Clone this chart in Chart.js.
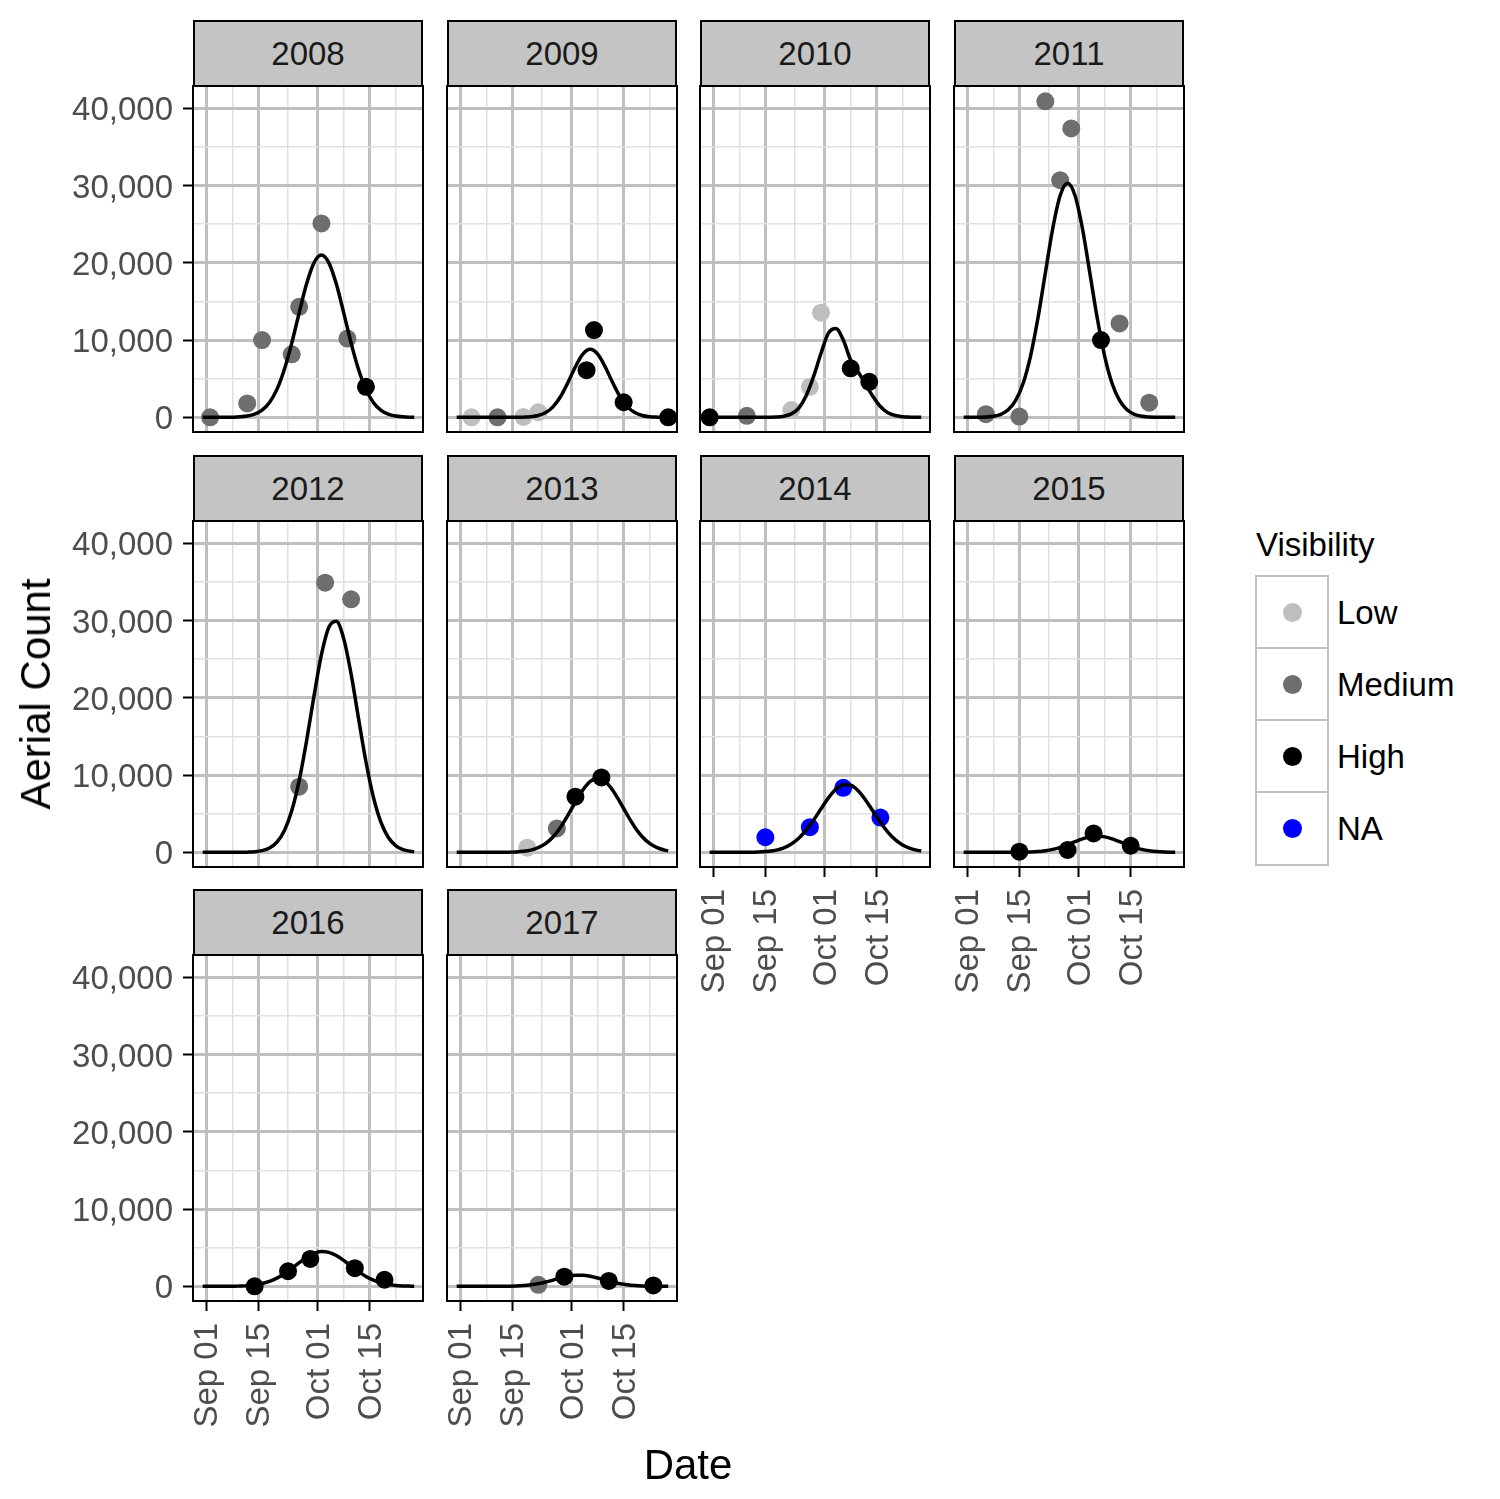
<!DOCTYPE html>
<html>
<head>
<meta charset="utf-8">
<script src="https://cdn.jsdelivr.net/npm/chart.js@4.4.1/dist/chart.umd.min.js"></script>
<style>
  body { margin: 0; background: #fff; font-family: "Liberation Sans", Arial, Helvetica, sans-serif; }
  #page { position: relative; width: 1500px; height: 1499px; overflow: hidden; background: #fff; }
  #page canvas { position: absolute; }
  .strip { position: absolute; box-sizing: border-box; background: #c4c4c4; border: 2px solid #000;
           display: flex; align-items: center; justify-content: center; font-size: 33px; color: #1a1a1a; }
  .title { position: absolute; font-size: 42px; color: #000; white-space: nowrap; transform: translate(-50%, -50%); }
  .key { position: absolute; box-sizing: border-box; border: 2.7px solid #c0c0c0; background: #fff; }
  .dot { position: absolute; border-radius: 50%; }
  .legtxt { position: absolute; font-size: 33px; line-height: 33px; color: #000; white-space: nowrap; }
</style>
</head>
<body>
<div id="page"></div>
<script>
// x values are days counted from Sep 01
const YEARS = [2008, 2009, 2010, 2011, 2012, 2013, 2014, 2015, 2016, 2017];
const VIS_LEVELS = ['Low', 'Medium', 'High', 'NA'];
const DAY_TICKS = [0, 7, 14, 22, 30, 37, 44, 51];
const DAY_MAJOR = [0, 14, 30, 44];
const DAY_LABELS = ['Sep 01', 'Sep 15', 'Oct 01', 'Oct 15'];
const COUNT_TICKS = [0, 5000, 10000, 15000, 20000, 25000, 30000, 35000, 40000];
const COUNT_MAJOR = [0, 10000, 20000, 30000, 40000];

// aerial counts
const days2008 = [1, 11, 15, 23, 25, 31, 38, 43];
const count2008 = [0, 1800, 10000, 8150, 14300, 25100, 10200, 3950];
const vis2008 = ['Medium', 'Medium', 'Medium', 'Medium', 'Medium', 'Medium', 'Medium', 'High'];
const days2009 = [3, 10, 17, 21, 34, 36, 44, 56];
const count2009 = [0, 0, 50, 650, 6100, 11300, 1950, 0];
const vis2009 = ['Low', 'Medium', 'Low', 'Low', 'High', 'High', 'High', 'High'];
const days2010 = [-1, 9, 21, 26, 29, 37, 42];
const count2010 = [0, 200, 940, 3950, 13550, 6350, 4600];
const vis2010 = ['High', 'Medium', 'Low', 'Low', 'Low', 'High', 'High'];
const days2011 = [5, 14, 21, 25, 28, 36, 41, 49];
const count2011 = [400, 100, 40900, 30700, 37400, 10000, 12150, 1900];
const vis2011 = ['Medium', 'Medium', 'Medium', 'Medium', 'Medium', 'High', 'Medium', 'Medium'];
const days2012 = [25, 32, 39];
const count2012 = [8500, 34900, 32750];
const vis2012 = ['Medium', 'Medium', 'Medium'];
const days2013 = [18, 26, 31, 38];
const count2013 = [600, 3100, 7200, 9700];
const vis2013 = ['Low', 'Medium', 'High', 'High'];
const days2014 = [14, 26, 35, 45];
const count2014 = [1950, 3250, 8350, 4500];
const vis2014 = ['NA', 'NA', 'NA', 'NA'];
const days2015 = [14, 27, 34, 44];
const count2015 = [80, 300, 2450, 850];
const vis2015 = ['High', 'High', 'High', 'High'];
const days2016 = [13, 22, 28, 40, 48];
const count2016 = [0, 1950, 3550, 2350, 850];
const vis2016 = ['High', 'High', 'High', 'High', 'High'];
const days2017 = [21, 28, 40, 52];
const count2017 = [200, 1250, 700, 120];
const vis2017 = ['Medium', 'High', 'High', 'High'];

const CURVE_DAYS = [-1, 1, 3, 5, 7, 9, 11, 13, 15, 17, 19, 21, 23, 25, 27, 29, 31, 33, 35, 37, 39, 41, 43, 45, 47, 49, 51, 53, 55, 56];
const fit2008 = [0, 0, 0, 0, 20, 60, 160, 400, 920, 1920, 3620, 6200, 9610, 13530, 17280, 20000, 21000, 20000, 17280, 13530, 9610, 6200, 3620, 1920, 920, 400, 160, 60, 20, 10];
const fit2009 = [0, 0, 0, 0, 0, 0, 0, 0, 5, 22, 78, 235, 610, 1390, 2700, 4530, 6550, 8170, 8800, 8170, 6550, 4530, 2700, 1390, 610, 235, 78, 22, 5, 2];
const fit2010 = [0, 0, 0, 0, 0, 0, 0, 0, 10, 40, 150, 450, 1200, 2800, 5300, 8300, 10900, 11500, 10000, 7400, 5900, 4300, 2700, 1400, 600, 230, 80, 25, 8, 5];
const fit2011 = [0, 3, 13, 45, 140, 390, 970, 2180, 4380, 7900, 12820, 18670, 24440, 28710, 30300, 28710, 24440, 18670, 12820, 7900, 4380, 2180, 970, 390, 140, 45, 13, 3, 0, 0];
const fit2012 = [0, 0, 0, 0, 0, 7, 25, 75, 215, 560, 1320, 2800, 5370, 9270, 14440, 20250, 25580, 29130, 29900, 27660, 23060, 17320, 11720, 7150, 3940, 1950, 870, 350, 130, 75];
const fit2013 = [0, 0, 0, 0, 0, 0, 0, 20, 50, 130, 290, 600, 1150, 2020, 3260, 4810, 6510, 8080, 9190, 9600, 9190, 8080, 6510, 4810, 3260, 2020, 1150, 600, 290, 190];
const fit2014 = [0, 0, 0, 0, 0, 0, 20, 60, 135, 290, 580, 1070, 1810, 2860, 4170, 5640, 7050, 8160, 8750, 8680, 7970, 6780, 5340, 3890, 2620, 1640, 950, 510, 250, 170];
const fit2015 = [0, 0, 0, 0, 0, 0, 0, 0, 20, 45, 100, 206, 380, 645, 985, 1370, 1740, 2000, 2100, 2000, 1740, 1370, 985, 645, 380, 206, 100, 45, 20, 13];
const fit2016 = [0, 0, 0, 0, 0, 40, 90, 190, 360, 640, 1060, 1630, 2320, 3060, 3750, 4260, 4500, 4390, 3980, 3350, 2620, 1900, 1270, 800, 460, 250, 120, 56, 24, 15];
const fit2017 = [0, 0, 0, 0, 0, 0, 0, 20, 47, 101, 196, 346, 556, 810, 1080, 1300, 1430, 1430, 1300, 1080, 810, 556, 346, 196, 101, 47, 20, 8, 3, 2];

const PANELS = [
  [days2008, count2008, vis2008, fit2008], [days2009, count2009, vis2009, fit2009],
  [days2010, count2010, vis2010, fit2010], [days2011, count2011, vis2011, fit2011],
  [days2012, count2012, vis2012, fit2012], [days2013, count2013, vis2013, fit2013],
  [days2014, count2014, vis2014, fit2014], [days2015, count2015, vis2015, fit2015],
  [days2016, count2016, vis2016, fit2016], [days2017, count2017, vis2017, fit2017]
];

const VIS_COLORS = { Low: '#bebebe', Medium: '#6e6e6e', High: '#000000', NA: '#0000ff' };
const MAJOR_GRID = '#bfbfbf', MINOR_GRID = '#e0e0e0';

// page layout (px)
const COL_X = [193, 447, 700, 954];
const ROW_Y = [86, 521, 955];
const PW = 230, PH = 346, STRIP_H = 66;
const Y_AXIS_W = 140, X_AXIS_H = 150, PAD = 2;

const page = document.getElementById('page');

const panelBorder = {
  id: 'panelBorder',
  afterDraw(chart) {
    const a = chart.chartArea, ctx = chart.ctx;
    ctx.save();
    ctx.strokeStyle = '#000';
    ctx.lineWidth = 2;
    ctx.strokeRect(a.left, a.top, a.right - a.left, a.bottom - a.top);
    ctx.restore();
  }
};

function gridStyle(majors, withTicks) {
  const isMajor = c => c.tick && majors.includes(c.tick.value);
  return {
    color: c => isMajor(c) ? MAJOR_GRID : MINOR_GRID,
    lineWidth: c => isMajor(c) ? 3 : 1.5,
    drawTicks: withTicks,
    tickLength: 10,
    tickWidth: 2,
    tickColor: c => isMajor(c) ? '#000' : 'rgba(0,0,0,0)'
  };
}

YEARS.forEach((year, i) => {
  const col = i % 4, row = Math.floor(i / 4);
  const hasY = col === 0;
  const hasX = row === 2 || (row === 1 && col >= 2);
  const [days, counts, vis, fit] = PANELS[i];
  const left = COL_X[col], top = ROW_Y[row];

  const strip = document.createElement('div');
  strip.className = 'strip';
  strip.style.left = left + 'px';
  strip.style.top = (top - STRIP_H) + 'px';
  strip.style.width = PW + 'px';
  strip.style.height = (STRIP_H + 1) + 'px';
  strip.textContent = year;
  page.appendChild(strip);

  const yw = hasY ? Y_AXIS_W : 0, xh = hasX ? X_AXIS_H : 0;
  const cv = document.createElement('canvas');
  cv.width = PW + yw + 2 * PAD;
  cv.height = PH + xh + 2 * PAD;
  cv.style.left = (left - yw - PAD) + 'px';
  cv.style.top = (top - PAD) + 'px';
  page.appendChild(cv);

  new Chart(cv, {
    type: 'line',
    data: {
      datasets: [
        {
          data: CURVE_DAYS.map((d, k) => ({ x: d, y: fit[k] })),
          borderColor: '#000', borderWidth: 3.5, pointRadius: 0,
          cubicInterpolationMode: 'monotone', order: 0
        },
        {
          data: days.map((d, k) => ({ x: d, y: counts[k] })),
          showLine: false, pointRadius: 9, pointBorderWidth: 0, borderWidth: 0,
          pointBackgroundColor: vis.map(v => VIS_COLORS[v]), order: 1
        }
      ]
    },
    options: {
      responsive: false, animation: false, events: [],
      layout: { padding: PAD, autoPadding: false },
      plugins: { legend: { display: false }, tooltip: { enabled: false } },
      scales: {
        x: {
          type: 'linear', min: -3.61, max: 58.37,
          afterBuildTicks: s => { s.ticks = DAY_TICKS.map(v => ({ value: v })); },
          afterFit: s => { s.height = xh; s.paddingLeft = 0; s.paddingRight = 0; s.paddingTop = 0; s.paddingBottom = 0; },
          border: { display: false },
          grid: gridStyle(DAY_MAJOR, hasX),
          ticks: {
            display: hasX, autoSkip: false, minRotation: 90, maxRotation: 90, padding: 12, labelOffset: 2,
            color: '#4d4d4d', font: { family: '"Liberation Sans", Arial', size: 33 },
            callback: v => { const k = DAY_MAJOR.indexOf(v); return k >= 0 ? DAY_LABELS[k] : ''; }
          }
        },
        y: {
          type: 'linear', min: -1900, max: 42890,
          afterBuildTicks: s => { s.ticks = COUNT_TICKS.map(v => ({ value: v })); },
          afterFit: s => { s.width = yw; s.paddingLeft = 0; s.paddingRight = 0; s.paddingTop = 0; s.paddingBottom = 0; },
          border: { display: false },
          grid: gridStyle(COUNT_MAJOR, hasY),
          ticks: {
            display: hasY, autoSkip: false, padding: 10, labelOffset: 3,
            color: '#4d4d4d', font: { family: '"Liberation Sans", Arial', size: 33 },
            callback: v => COUNT_MAJOR.includes(v) ? v.toLocaleString('en-US') : ''
          }
        }
      }
    },
    plugins: [panelBorder]
  });
});

// axis titles
function addTitle(text, x, y, rotate) {
  const t = document.createElement('div');
  t.className = 'title';
  t.textContent = text;
  t.style.left = x + 'px';
  t.style.top = y + 'px';
  if (rotate) t.style.transform = 'translate(-50%, -50%) rotate(-90deg)';
  page.appendChild(t);
}
addTitle('Aerial Count', 36, 694, true);
addTitle('Date', 688, 1465, false);

// legend
const legTitle = document.createElement('div');
legTitle.className = 'legtxt';
legTitle.textContent = 'Visibility';
legTitle.style.left = '1256px';
legTitle.style.top = '528px';
page.appendChild(legTitle);

VIS_LEVELS.forEach((lvl, k) => {
  const y0 = 575 + 72.1 * k;
  const key = document.createElement('div');
  key.className = 'key';
  key.style.left = '1255px';
  key.style.top = y0 + 'px';
  key.style.width = '74px';
  key.style.height = '74.8px';
  page.appendChild(key);

  const dot = document.createElement('div');
  dot.className = 'dot';
  dot.style.background = VIS_COLORS[lvl];
  dot.style.width = '19px';
  dot.style.height = '19px';
  dot.style.left = (1292 - 9.5) + 'px';
  dot.style.top = (y0 + 37.4 - 9.5) + 'px';
  page.appendChild(dot);

  const lab = document.createElement('div');
  lab.className = 'legtxt';
  lab.textContent = lvl;
  lab.style.left = '1337px';
  lab.style.top = (y0 + 37.4 - 16.5) + 'px';
  page.appendChild(lab);
});
</script>
</body>
</html>
